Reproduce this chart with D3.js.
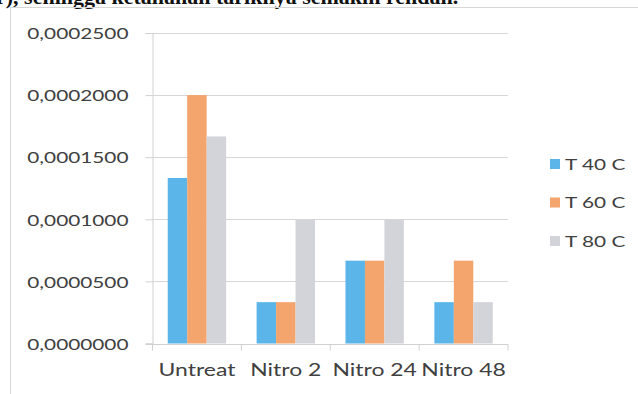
<!DOCTYPE html>
<html>
<head>
<meta charset="utf-8">
<script src="https://cdn.jsdelivr.net/npm/d3@7"></script>
<style>
  html, body { margin: 0; padding: 0; background: #fff; }
  svg { display: block; }
</style>
</head>
<body>
<svg id="chart" width="638" height="394"></svg>
<script>
// Tensile values per treatment, grouped by temperature
const categories = ["Untreat", "Nitro 2", "Nitro 24", "Nitro 48"];
const seriesNames = ["T 40 C", "T 60 C", "T 80 C"];
const t40 = [0.0001333, 0.0000333, 0.0000667, 0.0000333];
const t60 = [0.0002000, 0.0000333, 0.0000667, 0.0000667];
const t80 = [0.0001667, 0.0001000, 0.0001000, 0.0000333];
const yTicks = [0, 0.00005, 0.0001, 0.00015, 0.0002, 0.00025];
const colors = ["#5bb5e8", "#f4a46d", "#d3d3da"];

const seriesValues = [t40, t60, t80];
const svg = d3.select("#chart");
const font = "Lato, 'Open Sans', sans-serif";
const stretch = 1.3; // glyphs are drawn wider than their natural width

// Caption line of the surrounding document, cut by the top edge
svg.append("text")
  .attr("x", -4).attr("y", 4)
  .attr("font-family", "'Liberation Serif', 'Times New Roman', serif")
  .attr("font-size", 22)
  .attr("font-weight", "bold")
  .attr("fill", "#111")
  .text("r), sehingga ketahanan tariknya semakin rendah.");

// Chart frame
svg.append("rect")
  .attr("x", 10.5).attr("y", 7.5)
  .attr("width", 700).attr("height", 500)
  .attr("fill", "none").attr("stroke", "#d6d6d6");

const margin = { left: 152.5, right: 508, top: 33, bottom: 343.5 };

const x0 = d3.scaleBand()
  .domain(categories)
  .range([margin.left, margin.right])
  .paddingInner(0.343)
  .paddingOuter(0.1715);

const x1 = d3.scaleBand()
  .domain(seriesNames)
  .range([0, x0.bandwidth()]);

const y = d3.scaleLinear()
  .domain([0, 0.00025])
  .range([margin.bottom, margin.top]);

// Horizontal gridlines
svg.append("g")
  .selectAll("line")
  .data(yTicks.slice(1))
  .join("line")
  .attr("x1", margin.left).attr("x2", margin.right)
  .attr("y1", d => Math.round(y(d)) + 0.5).attr("y2", d => Math.round(y(d)) + 0.5)
  .attr("stroke", "#d6d6d6");

// Y axis
const fmt = d => d.toFixed(7).replace(".", ",");
const yAxis = svg.append("g")
  .attr("transform", `translate(${margin.left},0)`)
  .call(d3.axisLeft(y).tickValues(yTicks).tickFormat(fmt).tickSize(7).tickPadding(0));
yAxis.select(".domain").attr("stroke", "#d0d0d0");
yAxis.selectAll(".tick line").attr("stroke", "#d0d0d0");
yAxis.selectAll(".tick text")
  .attr("x", 0)
  .attr("font-family", font)
  .attr("font-size", 16)
  .attr("fill", "#404040")
  .attr("dy", "0.36em")
  .attr("transform", `translate(-24,0) scale(${stretch},1)`);

// Bars
const groups = svg.append("g")
  .selectAll("g")
  .data(categories)
  .join("g")
  .attr("transform", d => `translate(${x0(d)},0)`);

groups.selectAll("rect")
  .data((d, i) => seriesNames.map((s, j) => ({ s, j, v: seriesValues[j][i] })))
  .join("rect")
  .attr("x", d => x1(d.s))
  .attr("width", x1.bandwidth())
  .attr("y", d => y(d.v))
  .attr("height", d => y(0) - y(d.v))
  .attr("fill", d => colors[d.j]);

// X axis with ticks between categories
const xAxisG = svg.append("g")
  .attr("transform", `translate(0,${Math.round(y(0)) + 0.5})`);
xAxisG.append("line")
  .attr("x1", margin.left - 7).attr("x2", margin.right)
  .attr("stroke", "#d0d0d0");
const bounds = categories.map(c => x0(c) - x0.step() * x0.paddingInner() / 2)
  .concat([margin.right]);
xAxisG.selectAll(".xt")
  .data(bounds)
  .join("line")
  .attr("class", "xt")
  .attr("x1", d => d).attr("x2", d => d)
  .attr("y1", 0).attr("y2", 6)
  .attr("stroke", "#d0d0d0");
xAxisG.selectAll(".xl")
  .data(categories)
  .join("text")
  .attr("class", "xl")
  .attr("font-family", font)
  .attr("font-size", 17)
  .attr("fill", "#404040")
  .attr("text-anchor", "middle")
  .attr("transform", d => `translate(${x0(d) + x0.bandwidth() / 2},31) scale(1.35,1)`)
  .text(d => d);

// Legend
const legend = svg.append("g")
  .selectAll("g")
  .data(seriesNames)
  .join("g")
  .attr("transform", (d, i) => `translate(550,${164 + i * 38.5})`);
legend.append("rect")
  .attr("x", 0).attr("y", -5)
  .attr("width", 10).attr("height", 10)
  .attr("fill", (d, i) => colors[i]);
legend.append("text")
  .attr("font-family", font)
  .attr("font-size", 16)
  .attr("fill", "#404040")
  .attr("dy", "0.36em")
  .attr("transform", `translate(15,0) scale(${stretch},1)`)
  .text(d => d);
</script>
</body>
</html>
